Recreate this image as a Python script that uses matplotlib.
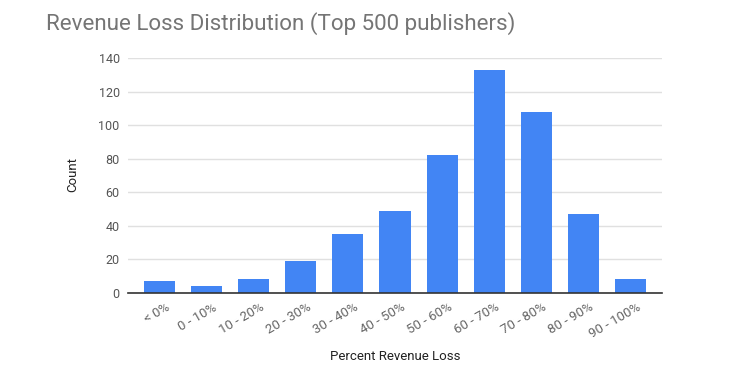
import matplotlib
matplotlib.use("Agg")
import matplotlib.pyplot as plt
import matplotlib.transforms as mtransforms

categories = ["< 0%", "0 - 10%", "10 - 20%", "20 - 30%", "30 - 40%", "40 - 50%",
              "50 - 60%", "60 - 70%", "70 - 80%", "80 - 90%", "90 - 100%"]
counts = [7, 4, 8, 19, 35, 49, 82, 133, 108, 47, 8]
yticks = [0, 20, 40, 60, 80, 100, 120, 140]

plt.rcParams['font.family'] = ['Roboto', 'DejaVu Sans']

W, H = 746, 379
fig = plt.figure(figsize=(W / 100, H / 100), dpi=100)
left, right, top, bottom = 128, 662, 58.5, 292.5
ax = fig.add_axes([left / W, 1 - bottom / H, (right - left) / W, (bottom - top) / H])

x = list(range(len(categories)))
ax.bar(x, counts, width=0.66, color="#4285F4", zorder=3)
ax.set_xlim(-0.67, len(categories) - 0.33)
ax.set_ylim(0, 140)
ax.set_yticks(yticks)
ax.set_yticklabels([str(t) for t in yticks], color="#555555", fontsize=9)
ax.set_xticks(x)
ax.set_xticklabels(categories, rotation=30, ha="right", rotation_mode="anchor",
                   color="#666666", fontsize=9.5)
ax.tick_params(axis="both", length=0, pad=6)
ax.tick_params(axis="x", pad=6)
offset = mtransforms.ScaledTranslation(6 / 100, 0, fig.dpi_scale_trans)
for lab in ax.get_xticklabels():
    lab.set_transform(lab.get_transform() + offset)
ax.grid(axis="y", color="#e0e0e0", linewidth=1, zorder=0)
for s in ["top", "right", "left"]:
    ax.spines[s].set_visible(False)
ax.spines["bottom"].set_color("#333333")
ax.spines["bottom"].set_linewidth(1.2)
ax.spines["bottom"].set_zorder(4)

fig.text(46 / W, 1 - 24 / H, "Revenue Loss Distribution (Top 500 publishers)",
         fontsize=16.1, color="#757575", ha="left", va="center")
fig.text(73 / W, 1 - 175 / H, "Count", rotation=90, fontsize=9.5, color="#222222",
         ha="center", va="center")
fig.text(395 / W, 1 - 357 / H, "Percent Revenue Loss", fontsize=9.5, color="#222222",
         ha="center", va="center")

fig.savefig("out.png", dpi=100, facecolor="white")
